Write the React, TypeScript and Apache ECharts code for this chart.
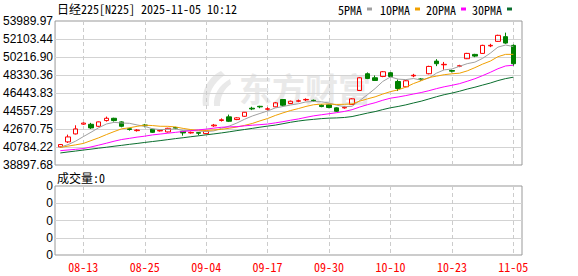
import React, { useEffect, useRef } from 'react';
import * as echarts from 'echarts';

const dates = [
  '08-07', '08-08', '08-12', '08-13', '08-14', '08-15', '08-18', '08-19', '08-20', '08-21',
  '08-22', '08-25', '08-26', '08-27', '08-28', '08-29', '09-01', '09-02', '09-03', '09-04',
  '09-05', '09-08', '09-09', '09-10', '09-11', '09-12', '09-16', '09-17', '09-18', '09-19',
  '09-22', '09-24', '09-25', '09-26', '09-29', '09-30', '10-01', '10-02', '10-03', '10-06',
  '10-07', '10-08', '10-09', '10-10', '10-14', '10-15', '10-16', '10-17', '10-20', '10-21',
  '10-22', '10-23', '10-24', '10-27', '10-28', '10-29', '10-30', '10-31', '11-04', '11-05',
];
const labelDates = ['08-13', '08-25', '09-04', '09-17', '09-30', '10-10', '10-23', '11-05'];

const opens = [
  40800, 41320, 42155, 43180, 43165, 42954, 43554, 43795, 43417, 42700,
  42500, 43090, 42639, 42470, 42366, 42820, 42429, 42260, 42290, 42187,
  43000, 43560, 43943, 43660, 44005, 44850, 45050, 44740, 44993, 45761,
  45340, 45580, 45720, 45680, 45162, 45204, 44888, 44880, 45235, 46707,
  48462, 48041, 48178, 48567, 47652, 47095, 48240, 47920, 48462, 49786,
  49400, 48800, 49250, 50038, 50490, 50595, 51380, 51856, 52350, 51436,
];
const closes = [
  41040, 41840, 42681, 43290, 42786, 43417, 43795, 43554, 42954, 42620,
  42560, 43020, 42324, 42530, 42744, 42760, 42261, 42320, 42230, 42450,
  43080, 43640, 43480, 43837, 44425, 44770, 44990, 44790, 45414, 45162,
  45582, 45630, 45770, 45620, 45025, 44920, 44530, 44940, 45834, 48041,
  47968, 47758, 48672, 48178, 46917, 47726, 48300, 47860, 49229, 49513,
  49450, 48730, 49300, 50595, 50311, 51436, 51440, 52487, 51678, 49513,
];
const lows = [
  40720, 41210, 42100, 43100, 42681, 42900, 43450, 43450, 42850, 42500,
  42400, 42850, 42250, 42400, 42300, 42650, 41976, 42180, 42010, 42150,
  42900, 43450, 43400, 43600, 43950, 44650, 44850, 44600, 44950, 45040,
  45300, 45480, 45600, 45500, 44950, 44850, 44450, 44800, 45200, 46650,
  47900, 47700, 48100, 48100, 46650, 47050, 48100, 47700, 48400, 49260,
  48880, 48600, 49150, 50000, 50200, 50550, 51250, 51800, 51600, 49300,
];
const highs = [
  41100, 42080, 43060, 43350, 43312, 43450, 43970, 43850, 43480, 42800,
  42650, 43200, 42700, 42600, 42800, 42900, 42480, 42400, 42350, 42520,
  43200, 43780, 44180, 43900, 44450, 45000, 45100, 44950, 45500, 45800,
  45650, 45750, 45880, 45760, 45250, 45250, 44950, 45050, 45900, 48100,
  48600, 48280, 48750, 48650, 47860, 47800, 48450, 48000, 49300, 49990,
  49700, 48900, 49400, 50650, 50550, 51500, 51600, 52550, 52770, 51530,
];

const ma5 = [
  40769, 41031, 41399, 41872, 42327, 42803, 43194, 43368, 43301, 43268,
  43097, 42942, 42696, 42611, 42636, 42676, 42524, 42523, 42463, 42404,
  42468, 42744, 42976, 43297, 43692, 44030, 44300, 44562, 44878, 45025,
  45188, 45316, 45512, 45553, 45525, 45393, 45173, 45007, 45050, 45653,
  46263, 46908, 47655, 48123, 47899, 47850, 47959, 47796, 48006, 48526,
  48870, 48956, 49244, 49518, 49677, 50074, 50616, 51254, 51470, 51311,
];
const ma10 = [
  40737, 40874, 41010, 41157, 41452, 41746, 42082, 42398, 42692, 42798,
  42950, 43068, 43032, 42956, 42952, 42886, 42733, 42609, 42537, 42520,
  42572, 42634, 42750, 42880, 43048, 43249, 43522, 43769, 44088, 44359,
  44609, 44808, 45037, 45215, 45275, 45290, 45244, 45259, 45301, 45589,
  45828, 46041, 46331, 46587, 46776, 47056, 47433, 47725, 48065, 48212,
  48360, 48458, 48520, 48762, 49101, 49472, 49786, 50249, 50494, 50494,
];
const ma20 = [
  40401, 40470, 40540, 40620, 40790, 40980, 41180, 41390, 41570, 41690,
  41820, 41920, 42050, 42140, 42230, 42320, 42410, 42490, 42580, 42659,
  42761, 42851, 42891, 42918, 43000, 43068, 43127, 43189, 43312, 43439,
  43590, 43721, 43893, 44048, 44162, 44270, 44383, 44514, 44694, 44974,
  45218, 45424, 45684, 45901, 46026, 46173, 46339, 46492, 46683, 46901,
  47094, 47249, 47426, 47674, 47939, 48264, 48610, 48987, 49279, 49353,
];
const ma30 = [
  40159, 40264, 40359, 40464, 40559, 40664, 40758, 40863, 40958, 41063,
  41157, 41262, 41357, 41452, 41557, 41662, 41756, 41861, 41956, 42061,
  42156, 42261, 42377, 42502, 42618, 42734, 42860, 42975, 43080, 43225,
  43377, 43503, 43606, 43684, 43758, 43809, 43833, 43879, 43975, 44156,
  44336, 44494, 44706, 44894, 45033, 45199, 45400, 45585, 45818, 46053,
  46266, 46435, 46629, 46855, 47051, 47273, 47488, 47745, 47953, 48098,
];

const maNames = ['5PMA', '10PMA', '20PMA', '30PMA'];
const maColors = ['#a0a0a0', '#f0a000', '#ff00ff', '#0a6e2e'];
const priceTickLabels = [
  '38897.68', '40784.22', '42670.75', '44557.29', '46443.83',
  '48330.36', '50216.90', '52103.44', '53989.97',
];
const volumeTickLabels = ['0', '0', '0', '0', '0'];
const priceMin = 38897.68;
const priceMax = 53989.97;
const titleText = '日经225[N225] 2025-11-05 10:12';
const volumeTitle = '成交量:0';

const MONO = "'Noto Sans Mono CJK SC', 'Noto Sans CJK SC', monospace";
const SANS = "'Liberation Sans', Arial, sans-serif";

const LOGO_PATH =
  'M22 0 C10 6 2 18 4 35 L10 35 C9 22 14 12 26 4 Z M31 8 C20 14 14 24 15 35 L21 35 C21 26 25 18 32 13 Z';

echarts.graphic.registerShape('emLogo', echarts.graphic.extendPath(LOGO_PATH, {}) as any);

export default function App() {
  const ref = useRef<HTMLDivElement>(null);

  useEffect(() => {
    if (!ref.current) return;
    const chart = echarts.init(ref.current, null, { renderer: 'svg' });
    const showDate = (_i: number, v: string) => labelDates.includes(v);
    const dashed = { show: true, interval: showDate, lineStyle: { color: '#cccccc', type: [4, 3] as any, width: 1 } };
    const mas = [ma5, ma10, ma20, ma30];

    chart.setOption({
      animation: false,
      backgroundColor: '#ffffff',
      title: [
        {
          text: titleText, left: 57, top: 2, padding: 0,
          textStyle: { fontFamily: MONO, fontSize: 12, fontWeight: 'normal', color: '#000' },
        },
        {
          text: volumeTitle, left: 57, top: 171, padding: 0,
          textStyle: { fontFamily: MONO, fontSize: 12, fontWeight: 'normal', color: '#000' },
        },
      ],
      legend: maNames.map((name, k) => ({
        data: [name],
        left: [338, 380, 426, 472][k],
        top: 3,
        padding: 0,
        align: 'right',
        icon: 'rect',
        itemWidth: 5,
        itemHeight: 3,
        selectedMode: false,
        textStyle: { fontFamily: MONO, fontSize: 12, color: '#000' },
      })),
      graphic: [
        { type: 'emLogo', x: 199, y: 71, scaleX: 1, scaleY: 1, style: { fill: '#e9e9e9' }, silent: true, z: 0 },
        {
          type: 'text', x: 239, y: 71, silent: true, z: 0,
          style: { text: '东方财富', fill: '#e9e9e9', font: "bold 33px 'Noto Sans CJK SC'", verticalAlign: 'top' },
        },
      ],
      grid: [
        { left: 55, top: 21, width: 467, height: 144, show: true, borderColor: '#999999', borderWidth: 1 },
        { left: 60.3, top: 21, width: 453, height: 144 },
        { left: 55, top: 186, width: 467, height: 69, show: true, borderColor: '#999999', borderWidth: 1 },
        { left: 60.3, top: 186, width: 453, height: 69 },
      ],
      xAxis: [
        { gridIndex: 0, type: 'value', show: false, min: 0, max: 1 },
        {
          gridIndex: 1, type: 'category', data: dates, boundaryGap: false,
          axisLine: { show: false }, axisTick: { show: false }, axisLabel: { show: false },
          splitLine: dashed,
        },
        { gridIndex: 2, type: 'value', show: false, min: 0, max: 1 },
        {
          gridIndex: 3, type: 'category', data: dates, boundaryGap: false,
          axisLine: { show: false }, axisTick: { show: false },
          axisLabel: { interval: showDate, color: '#ff0000', fontFamily: MONO, fontSize: 12, margin: 5 },
          splitLine: dashed,
        },
      ],
      yAxis: [
        {
          gridIndex: 0, type: 'value', min: 0, max: 8, interval: 1,
          axisLine: { show: false }, axisTick: { show: false },
          axisLabel: { formatter: (v: number) => priceTickLabels[v], fontFamily: SANS, fontSize: 12, color: '#000', margin: 2 },
          splitLine: { show: true, showMinLine: false, showMaxLine: false, lineStyle: { color: '#d3d3d3', width: 1 } },
        },
        { gridIndex: 1, type: 'value', min: priceMin, max: priceMax, show: false, splitLine: { show: false } },
        {
          gridIndex: 2, type: 'value', min: 0, max: 4, interval: 1,
          axisLine: { show: false }, axisTick: { show: false },
          axisLabel: { formatter: (v: number) => volumeTickLabels[v], fontFamily: SANS, fontSize: 12, color: '#000', margin: 2 },
          splitLine: { show: true, showMinLine: false, showMaxLine: false, lineStyle: { color: '#d3d3d3', width: 1 } },
        },
        { gridIndex: 3, type: 'value', min: 0, max: 1, show: false, splitLine: { show: false } },
      ],
      series: [
        {
          type: 'candlestick',
          name: '日经225',
          xAxisIndex: 1, yAxisIndex: 1,
          barWidth: 5,
          data: dates.map((_, i) => [opens[i], closes[i], lows[i], highs[i]]),
          itemStyle: {
            color: 'transparent', color0: '#008000',
            borderColor: '#ff0000', borderColor0: '#008000', borderWidth: 1,
          },
        },
        ...maNames.map((name, k) => ({
          type: 'line',
          name,
          xAxisIndex: 1, yAxisIndex: 1,
          data: mas[k],
          color: maColors[k],
          symbol: 'none',
          showSymbol: false,
          lineStyle: { width: 1, color: maColors[k] },
        })),
      ],
    } as any);

    return () => chart.dispose();
  }, []);

  return <div ref={ref} style={{ position: 'fixed', left: 0, top: 0, width: 578, height: 276 }} />;
}
